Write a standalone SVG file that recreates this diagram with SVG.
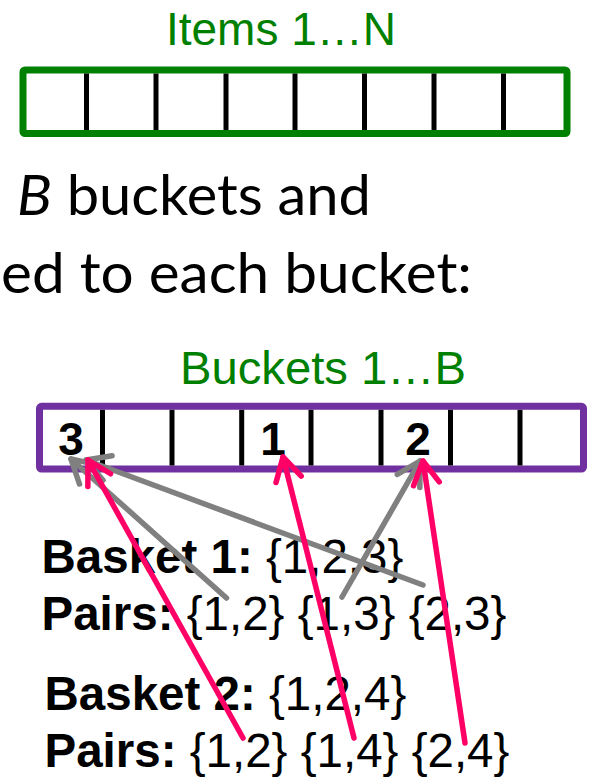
<svg xmlns="http://www.w3.org/2000/svg" width="590" height="779" viewBox="0 0 590 779">
  <style>
    .title { font-family: "Liberation Sans", Arial, sans-serif; font-size: 46px; fill: #008000; text-anchor: middle; }
    .frameG { fill: #ffffff; stroke: #008000; stroke-width: 7; }
    .frameP { fill: #ffffff; stroke: #7030A0; stroke-width: 7; }
    .div { stroke: #000000; stroke-width: 5; }
    .num { font-family: "Liberation Sans", Arial, sans-serif; font-size: 46px; font-weight: bold; fill: #000; text-anchor: middle; }
    .big { font-family: Lato, "Open Sans", sans-serif; font-size: 56px; fill: #000; }
    .lbl { font-family: "Liberation Sans", Arial, sans-serif; font-size: 47.5px; fill: #000; }
    .b { font-weight: bold; }
    .gray { stroke: #808080; stroke-width: 5.5; fill: none; stroke-linecap: round; marker-end: url(#ag); }
    .pink { stroke: #FF0066; stroke-width: 5.5; fill: none; stroke-linecap: round; marker-end: url(#ap); }
  </style>
  <defs>
    <marker id="ag" markerUnits="userSpaceOnUse" markerWidth="40" markerHeight="40" viewBox="-30 -20 40 40" refX="0" refY="0" orient="auto" overflow="visible">
      <path d="M-23,-13 L0,0 L-23,13" fill="none" stroke="#808080" stroke-width="5.5" stroke-linecap="round" stroke-linejoin="round"/>
    </marker>
    <marker id="ap" markerUnits="userSpaceOnUse" markerWidth="40" markerHeight="40" viewBox="-30 -20 40 40" refX="0" refY="0" orient="auto" overflow="visible">
      <path d="M-23,-13 L0,0 L-23,13" fill="none" stroke="#FF0066" stroke-width="5.5" stroke-linecap="round" stroke-linejoin="round"/>
    </marker>
  </defs>

  <g id="items">
    <text class="title" x="281" y="45">Items 1…N</text>
    <rect class="frameG" x="23" y="70" width="544" height="63.5" rx="2"/>
    <g class="div">
      <line x1="86.5" y1="73.5" x2="86.5" y2="130"/>
      <line x1="156" y1="73.5" x2="156" y2="130"/>
      <line x1="226" y1="73.5" x2="226" y2="130"/>
      <line x1="295" y1="73.5" x2="295" y2="130"/>
      <line x1="364.5" y1="73.5" x2="364.5" y2="130"/>
      <line x1="434" y1="73.5" x2="434" y2="130"/>
      <line x1="503.5" y1="73.5" x2="503.5" y2="130"/>
    </g>
  </g>

  <g id="caption">
    <text class="big" x="17" y="215" textLength="354" lengthAdjust="spacingAndGlyphs"><tspan font-style="italic">B</tspan> buckets and</text>
    <text class="big" x="1" y="293" textLength="471" lengthAdjust="spacingAndGlyphs">ed to each bucket:</text>
  </g>

  <g id="buckets">
    <text class="title" x="323" y="384" textLength="286" lengthAdjust="spacingAndGlyphs">Buckets 1…B</text>
    <rect class="frameP" x="39.5" y="406.3" width="544" height="62.7" rx="2"/>
    <g class="div">
      <line x1="102.5" y1="409.8" x2="102.5" y2="465.5"/>
      <line x1="172" y1="409.8" x2="172" y2="465.5"/>
      <line x1="241.7" y1="409.8" x2="241.7" y2="465.5"/>
      <line x1="311" y1="409.8" x2="311" y2="465.5"/>
      <line x1="381" y1="409.8" x2="381" y2="465.5"/>
      <line x1="450.5" y1="409.8" x2="450.5" y2="465.5"/>
      <line x1="520" y1="409.8" x2="520" y2="465.5"/>
    </g>
    <text class="num" x="71" y="455">3</text>
    <text class="num" x="273" y="455">1</text>
    <text class="num" x="418" y="455">2</text>
  </g>

  <g id="basket1">
    <text class="lbl" x="41.5" y="573"><tspan class="b">Basket 1:</tspan> {1,2,3}</text>
    <text class="lbl" x="41.5" y="630"><tspan class="b">Pairs:</tspan> {1,2} {1,3} {2,3}</text>
  </g>

  <g id="basket2">
    <text class="lbl" x="44.5" y="710"><tspan class="b">Basket 2:</tspan> {1,2,4}</text>
    <text class="lbl" x="44.5" y="767"><tspan class="b">Pairs:</tspan> {1,2} {1,4} {2,4}</text>
  </g>

  <g id="connectors">
    <line class="gray" x1="226.5" y1="598" x2="71" y2="459"/>
    <line class="gray" x1="423" y1="585" x2="86" y2="460"/>
    <line class="gray" x1="342" y1="597" x2="420" y2="461"/>
    <line class="pink" x1="243" y1="738" x2="88" y2="460"/>
    <line class="pink" x1="354" y1="738" x2="283" y2="457"/>
    <line class="pink" x1="465" y1="743" x2="423" y2="461"/>
  </g>
</svg>
